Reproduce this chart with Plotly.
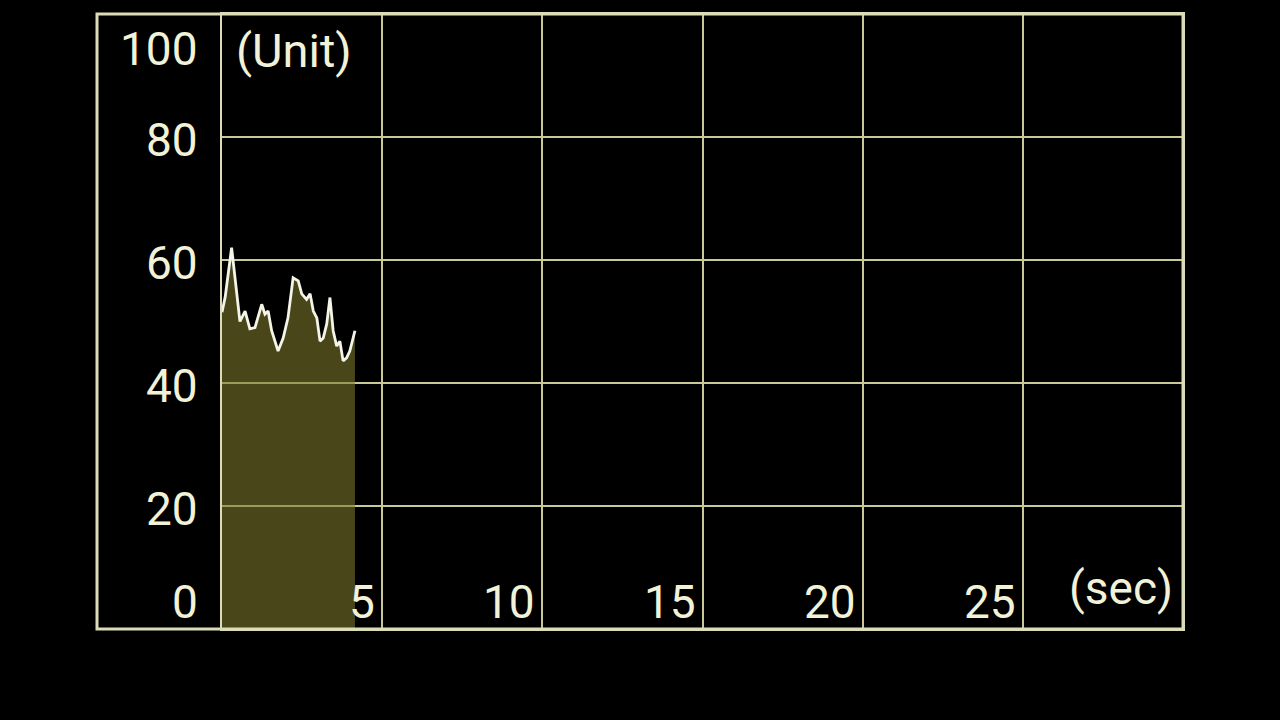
import plotly.graph_objects as go

# data (seconds, units)
t_sec = [0.00, 0.10, 0.30, 0.45, 0.56, 0.72, 0.87, 1.03, 1.24, 1.34, 1.44, 1.55, 1.75, 1.91,
         2.06, 2.22, 2.38, 2.49, 2.64, 2.75, 2.85, 2.96, 3.06, 3.16, 3.27, 3.37, 3.47, 3.58,
         3.68, 3.78, 3.89, 3.99, 4.15]
values = [51.5, 54.0, 62.0, 55.0, 50.0, 51.7, 48.8, 49.0, 52.8, 51.2, 51.7, 48.5, 45.2, 47.3,
          50.6, 57.1, 56.6, 54.5, 53.6, 54.5, 51.7, 50.6, 46.8, 47.3, 49.6, 53.9, 48.5, 46.0,
          46.8, 43.6, 44.1, 45.2, 48.5]
x_ticks = [5, 10, 15, 20, 25]
y_ticks = [0, 20, 40, 60, 80, 100]
x_unit = "(sec)"
y_unit = "(Unit)"

TXT = "#f2f2d8"
GRID = "#c8c898"
FRAME = "#dcdcb8"
FONT = "Roboto"
FS = 46

fig = go.Figure()
fig.add_trace(go.Scatter(
    x=t_sec, y=values, mode="lines",
    line=dict(color="#f4f4e8", width=2.8),
    fill="tozeroy", fillcolor="rgba(125,122,45,0.58)",
    hoverinfo="skip", showlegend=False,
))

fig.update_layout(
    width=1280, height=720,
    margin=dict(l=222, r=97, t=12, b=91),
    paper_bgcolor="black", plot_bgcolor="black",
    showlegend=False,
    xaxis=dict(range=[0, 30], tickvals=[0] + x_ticks + [30], showticklabels=False,
               showgrid=True, gridcolor=GRID, gridwidth=2, zeroline=False,
               showline=True, linecolor=FRAME, linewidth=2, mirror=True, ticks=""),
    yaxis=dict(range=[0, 100], tickvals=y_ticks, showticklabels=False,
               showgrid=True, gridcolor=GRID, gridwidth=2, zeroline=False,
               showline=True, linecolor=FRAME, linewidth=2, mirror=True, ticks=""),
)

# outer frame including the label column
fig.add_shape(type="rect", xref="paper", yref="paper",
              x0=(97 - 222) / 961, x1=1, y0=0, y1=1,
              line=dict(color=FRAME, width=3), layer="above")

font = dict(family=FONT, size=FS, color=TXT)

# y tick labels
for v in y_ticks:
    shift = -3
    if v == 100:
        shift = -35
    elif v == 0:
        shift = 27
    fig.add_annotation(x=-22 / 961, xref="paper", y=v, yref="y", text=str(v),
                       showarrow=False, xanchor="right", yanchor="middle",
                       yshift=shift, font=font)

# x tick labels
for v in x_ticks:
    fig.add_annotation(x=v, xref="x", y=0, yref="y", text=str(v),
                       showarrow=False, xanchor="right", yanchor="middle",
                       xshift=-5, yshift=27, font=font)

fig.add_annotation(x=1, xref="paper", y=0, yref="y", text=x_unit, showarrow=False,
                   xanchor="right", yanchor="middle", xshift=-8, yshift=41, font=font)
fig.add_annotation(x=0, xref="x", y=100, yref="y", text=y_unit, showarrow=False,
                   xanchor="left", yanchor="middle", xshift=12, yshift=-36,
                   font=dict(family=FONT, size=47, color=TXT))

fig.write_html(
    "out.html",
    config={"displayModeBar": False, "staticPlot": True},
    post_script="document.body.style.margin='0';document.body.style.background='black';"
                "document.documentElement.style.background='black';"
                "document.body.style.overflow='hidden';",
)
